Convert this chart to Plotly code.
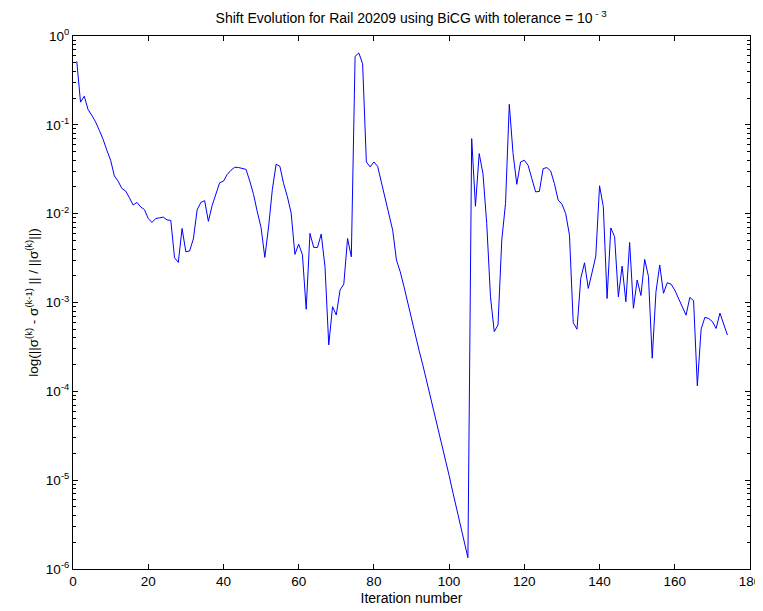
import plotly.graph_objects as go

iterations = list(range(1, 175))

shift_change = [
    0.52, 0.18, 0.21, 0.149, 0.128, 0.108, 0.0867, 0.0687, 0.0517, 0.040,      # 1-10
    0.0266, 0.0232, 0.0192, 0.018, 0.0151, 0.0125, 0.0134, 0.0119, 0.0111, 0.00883,  # 11-20
    0.00796, 0.00883, 0.00897, 0.00914, 0.0085, 0.0084, 0.00319, 0.00283, 0.00682, 0.00372,  # 21-30
    0.0038, 0.0052, 0.011, 0.0134, 0.014, 0.0082, 0.0124, 0.017, 0.0223, 0.0232,  # 31-40
    0.0276, 0.0308, 0.0333, 0.0331, 0.0326, 0.0315, 0.0233, 0.0165, 0.0105, 0.0070,  # 41-50
    0.00322, 0.0071, 0.0187, 0.036, 0.0342, 0.0218, 0.0155, 0.0102, 0.00348, 0.00454,  # 51-60
    0.00345, 0.000838, 0.0060, 0.00417, 0.00417, 0.00589, 0.00253, 0.000333, 0.000897, 0.000724,  # 61-70
    0.00138, 0.00161, 0.00526, 0.00327, 0.589, 0.644, 0.487, 0.0382, 0.0336, 0.0382,  # 71-80
    0.034, 0.0228, 0.0148, 0.0098, 0.0065, 0.0030, 0.00222, 0.00151, 0.00099, 0.00064,  # 81-90
    0.00043, 0.00029, 0.000199, 0.000133, 8.95e-05, 6.0e-05, 4.02e-05, 2.71e-05, 1.75e-05, 1.13e-05,  # 91-100
    7.3e-06, 4.71e-06, 3.05e-06, 1.97e-06, 1.34e-06, 0.070, 0.0121, 0.0475, 0.0283, 0.00776,  # 101-110
    0.00116, 0.00047, 0.000558, 0.00504, 0.013, 0.17, 0.0475, 0.0214, 0.0382, 0.0399,  # 111-120
    0.0351, 0.0248, 0.0176, 0.0178, 0.0322, 0.033, 0.0303, 0.0218, 0.0142, 0.0128,  # 121-130
    0.010, 0.00573, 0.000593, 0.0005, 0.00187, 0.0028, 0.00144, 0.00216, 0.00333, 0.0206,  # 131-140
    0.012, 0.00111, 0.0069, 0.0055, 0.00116, 0.00257, 0.00102, 0.00474, 0.00086, 0.00179,  # 141-150
    0.0012, 0.00306, 0.00197, 0.000236, 0.00132, 0.00264, 0.00127, 0.00167, 0.00161, 0.00138,  # 151-160
    0.00111, 0.00088, 0.00072, 0.00114, 0.00105, 0.000115, 0.0005, 0.00068, 0.00066, 0.00061,  # 161-170
    0.00051, 0.00076, 0.00056, 0.00043,  # 171-174
]

y_tick_vals = [1e-6, 1e-5, 1e-4, 1e-3, 1e-2, 1e-1, 1e0]
y_tick_text = ["10<sup>-6</sup>", "10<sup>-5</sup>", "10<sup>-4</sup>", "10<sup>-3</sup>",
               "10<sup>-2</sup>", "10<sup>-1</sup>", "10<sup>0</sup>"]
minor_vals = [k * 10.0 ** e for e in range(-6, 0) for k in range(2, 10)]
x_tick_vals = list(range(0, 181, 20))

font_family = "Liberation Sans, Arial, Helvetica, sans-serif"

fig = go.Figure()
fig.add_trace(go.Scatter(
    x=iterations, y=shift_change, mode="lines",
    line=dict(color="#0000ff", width=1),
    showlegend=False,
))

# the page body adds an 8px offset; the figure is sized to fill the rest of the window
fig.update_layout(
    width=755, height=603,
    margin=dict(l=65, r=13, t=28, b=42),
    paper_bgcolor="white", plot_bgcolor="white",
    font=dict(family=font_family, size=13, color="black"),
    title=dict(
        text="Shift Evolution for Rail 20209 using BiCG with tolerance = 10<sup> - 3</sup>",
        x=0.534, xanchor="center", y=0.983, yanchor="middle",
        font=dict(size=14, family=font_family, color="black"),
    ),
    xaxis=dict(
        range=[0, 180], tickmode="array", tickvals=x_tick_vals,
        ticks="inside", ticklen=5, tickcolor="black",
        showline=True, linecolor="black", linewidth=1, mirror="allticks",
        showgrid=False, zeroline=False, automargin=False,
        title=dict(text="Iteration number", standoff=4, font=dict(size=14)),
        tickfont=dict(size=13.5),
    ),
    yaxis=dict(
        type="log", range=[-6, 0], tickmode="array",
        tickvals=y_tick_vals, ticktext=y_tick_text,
        ticks="inside", ticklen=5, tickcolor="black",
        showline=True, linecolor="black", linewidth=1, mirror="allticks",
        showgrid=False, zeroline=False, automargin=False,
        minor=dict(tickmode="array", tickvals=minor_vals, ticks="inside",
                   ticklen=3, tickcolor="black", showgrid=False),
        title=dict(text="log(||σ<sup>(k)</sup> - σ<sup>(k-1)</sup> || / ||σ<sup>(k)</sup>||)",
                   standoff=4, font=dict(size=13.5)),
        tickfont=dict(size=13.5),
    ),
    yaxis2=dict(
        type="log", range=[-6, 0], overlaying="y", side="right",
        tickmode="array", tickvals=y_tick_vals, showticklabels=False,
        ticks="inside", ticklen=5, tickcolor="black",
        showline=False, showgrid=False, zeroline=False, automargin=False,
        minor=dict(tickmode="array", tickvals=minor_vals, ticks="inside",
                   ticklen=3, tickcolor="black", showgrid=False),
    ),
)

fig.write_html("out.html")
